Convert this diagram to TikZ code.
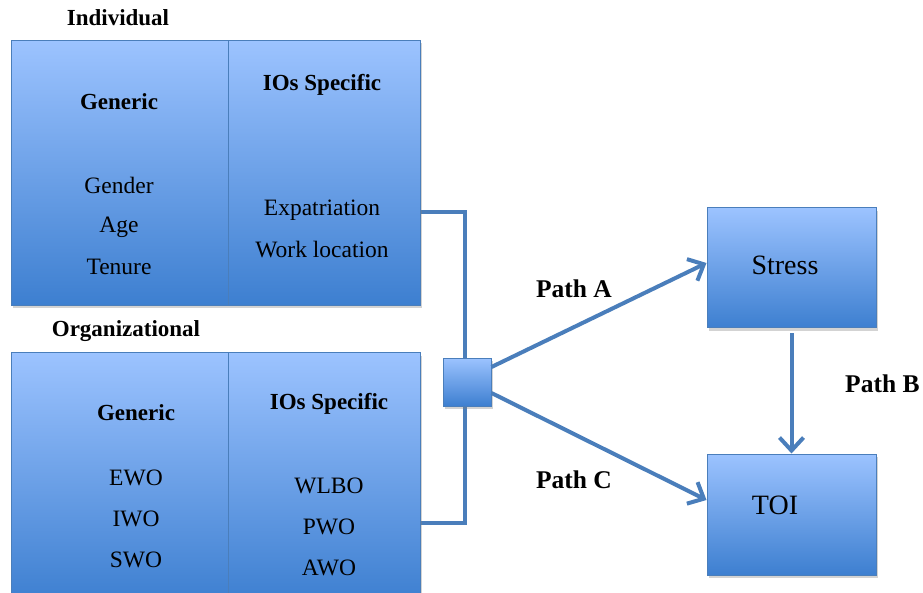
\documentclass[tikz,border=0pt]{standalone}
\usepackage{fontspec}
\setmainfont{Liberation Serif}
\usetikzlibrary{arrows.meta,shadows}
\definecolor{edgeblue}{HTML}{4A7EBB}
\definecolor{topblue}{HTML}{9CC3FF}
\definecolor{botblue}{HTML}{3D7FD0}
\tikzset{
  gbox/.style={draw=edgeblue, line width=1pt, top color=topblue, bottom color=botblue,
    drop shadow={shadow xshift=1.5pt, shadow yshift=-3pt, opacity=0.35}},
  link/.style={draw=edgeblue, line width=4pt},
  arr/.style={link, -{Straight Barb[length=13pt, width=24pt, line width=4pt]}},
  lbl/.style={font=\fontsize{23.5}{27}\selectfont, inner sep=0pt},
  hdr/.style={font=\fontsize{23}{27}\selectfont\bfseries, inner sep=0pt},
  pathlbl/.style={font=\fontsize{25.5}{29}\selectfont\bfseries, inner sep=0pt},
  big/.style={font=\fontsize{28}{32}\selectfont, inner sep=0pt},
}
\begin{document}
\begin{tikzpicture}[x=1pt,y=-1pt]
\useasboundingbox (0,0) rectangle (923,593);
\begin{scope}
\clip (0,0) rectangle (923,593);
% connectors from the two groups to the junction
\draw[link, line cap=rect] (420,212) coordinate (ia) -- (465,212) -- (465,523) -- (420,523) coordinate (oa);
% individual group
\node[gbox, minimum width=217pt, minimum height=265pt, anchor=north west, inner sep=0pt] (ig) at (11,40) {};
\node[gbox, minimum width=192pt, minimum height=265pt, anchor=north west, inner sep=0pt] (is) at (228,40) {};
% organizational group
\node[gbox, minimum width=217pt, minimum height=250pt, anchor=north west, inner sep=0pt] (og) at (11,352) {};
\node[gbox, minimum width=192pt, minimum height=250pt, anchor=north west, inner sep=0pt] (os) at (228,352) {};
% junction
\node[gbox, minimum width=48pt, minimum height=48pt, inner sep=0pt] (j) at (467,382) {};
% outcomes
\node[gbox, minimum width=169pt, minimum height=120pt, inner sep=0pt] (st) at (791.5,268) {};
\node[gbox, minimum width=169pt, minimum height=121pt, inner sep=0pt] (toi) at (791.5,514.5) {};
% paths
\draw[arr] ([yshift=15pt]j.east) -- ([yshift=5pt]st.west);
\draw[arr] ([yshift=-11pt]j.east) -- ([yshift=14.5pt]toi.west);
\draw[arr] ([yshift=-5pt]st.south) -- (toi.north);
\node[pathlbl] at (574,289) {Path A};
\node[pathlbl] at (574,480) {Path C};
\node[pathlbl, anchor=west] at (845,384) {Path B};
\end{scope}
\node[big] at (785,265) {Stress};
\node[big] at (775,505) {TOI};
% group titles
\node[hdr] at (118,18) {Individual};
\node[hdr] at (126,331) {Organizational};
% individual contents
\node[hdr] at (119,102) {Generic};
\node[hdr] at (322,85) {IOs Specific};
\node[lbl] at (119,185) {Gender};
\node[lbl] at (119,227) {Age};
\node[lbl] at (119,267) {Tenure};
\node[lbl] at (322,210) {Expatriation};
\node[lbl] at (322,250) {Work location};
% organizational contents
\node[hdr] at (136,413) {Generic};
\node[hdr] at (329,404) {IOs Specific};
\node[lbl] at (136,478) {EWO};
\node[lbl] at (136,519) {IWO};
\node[lbl] at (136,560) {SWO};
\node[lbl] at (329,486) {WLBO};
\node[lbl] at (329,527) {PWO};
\node[lbl] at (329,568) {AWO};
\end{tikzpicture}
\end{document}
